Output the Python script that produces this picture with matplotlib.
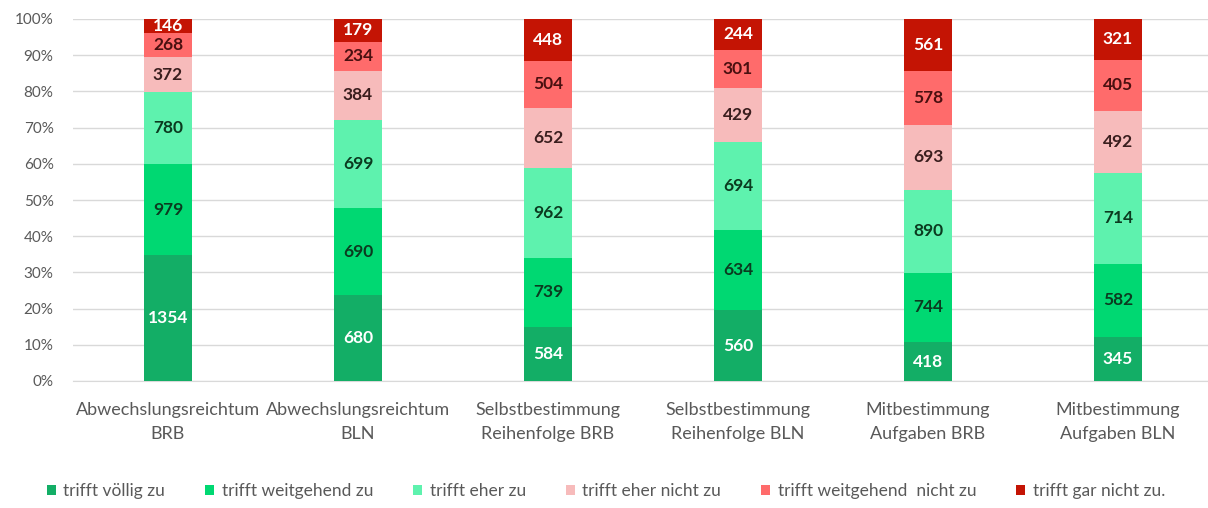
import matplotlib
matplotlib.use("Agg")
import matplotlib.pyplot as plt
import numpy as np

categories = ["Abwechslungsreichtum\nBRB", "Abwechslungsreichtum\nBLN",
              "Selbstbestimmung\nReihenfolge BRB", "Selbstbestimmung\nReihenfolge BLN",
              "Mitbestimmung\nAufgaben BRB", "Mitbestimmung\nAufgaben BLN"]
series_names = ["trifft völlig zu", "trifft weitgehend zu", "trifft eher zu",
                "trifft eher nicht zu", "trifft weitgehend  nicht zu", "trifft gar nicht zu."]
voellig = [1354, 680, 584, 560, 418, 345]
weitgehend = [979, 690, 739, 634, 744, 582]
eher = [780, 699, 962, 694, 890, 714]
eher_nicht = [372, 384, 652, 429, 693, 492]
weitgehend_nicht = [268, 234, 504, 301, 578, 405]
gar_nicht = [146, 179, 448, 244, 561, 321]
yticks = [0, 10, 20, 30, 40, 50, 60, 70, 80, 90, 100]

colors = ["#13AE66", "#00D872", "#5EF2AE", "#F7BBBB", "#FF6B6B", "#C41404"]
label_colors = ["white", "#0B3B20", "#0B3B20", "#3A1E1E", "#4A1010", "white"]

plt.rcParams['font.family'] = ['Lato', 'DejaVu Sans']

fig = plt.figure(figsize=(12.08, 5.08), dpi=100)
ax = fig.add_axes([73/1208, 1 - 381/508, (1208 - 73)/1208, (381 - 19)/508])

data = np.array([voellig, weitgehend, eher, eher_nicht, weitgehend_nicht, gar_nicht], dtype=float)
totals = data.sum(axis=0)
pct = data / totals * 100
x = np.arange(len(categories))
bottom = np.zeros(len(categories))
handles = []
for i in range(len(series_names)):
    b = ax.bar(x, pct[i], 0.253, bottom=bottom, color=colors[i], label=series_names[i], zorder=3)
    handles.append(b)
    for j in range(len(categories)):
        ax.text(x[j], bottom[j] + pct[i][j] / 2, f"{int(data[i][j])}", ha='center', va='center',
                color=label_colors[i], fontsize=12.5, fontweight='bold', zorder=4)
    bottom += pct[i]

ax.set_xlim(-0.5, -0.5 + (1208 - 73) / 190)
ax.set_ylim(0, 100)
ax.set_yticks(yticks)
ax.set_yticklabels([f"{v}%" for v in yticks], color="#595959", fontsize=11)
ax.yaxis.grid(True, color="#D9D9D9", linewidth=1, zorder=0)
ax.set_xticks(x)
ax.set_xticklabels(categories, color="#595959", fontsize=13, linespacing=1.6)
ax.tick_params(axis='both', length=0)
ax.tick_params(axis='x', pad=15)
ax.tick_params(axis='y', pad=14)
for s in ['top', 'right', 'left']:
    ax.spines[s].set_visible(False)
ax.spines['bottom'].set_color("#D9D9D9")

leg = fig.legend(handles=handles, labels=series_names, loc='center left', ncol=6,
                 bbox_to_anchor=(47/1208, 1 - 491/508), frameon=False, fontsize=12.5,
                 borderpad=0, borderaxespad=0,
                 handlelength=0.5, handleheight=0.5, handletextpad=0.45, columnspacing=2.3,
                 labelcolor="#595959")

fig.savefig("out.png", dpi=100)
